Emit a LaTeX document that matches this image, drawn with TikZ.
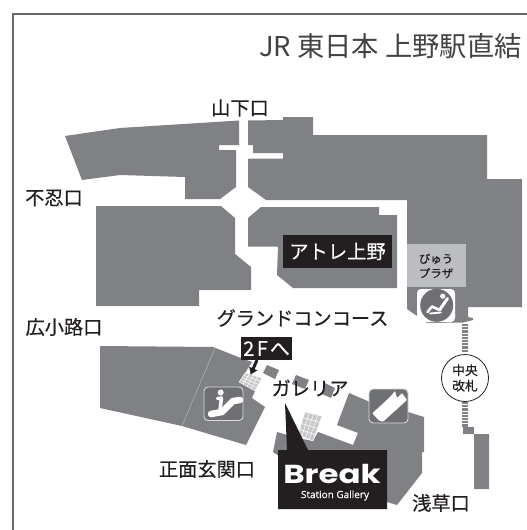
\documentclass[tikz,border=0pt]{standalone}
\usepackage{fontspec}
\usepackage{graphicx}
\usetikzlibrary{calc,arrows.meta}
\setmainfont{Noto Sans CJK JP}
\newfontfamily\boldish{Noto Sans CJK JP}[FakeBold=0.4]
\newfontfamily\logofont{Poppins}
\newfontfamily\latinfont{Open Sans}[FakeBold=0.3]
\definecolor{mapgray}{HTML}{808184}
\definecolor{icongray}{HTML}{6F7073}
\definecolor{lightgray2}{HTML}{BCBDC0}
\definecolor{inkblack}{HTML}{231F20}
\definecolor{framegray}{HTML}{6A6A6C}
\definecolor{tilegray}{HTML}{C8C9CB}
\begin{document}
\begin{tikzpicture}[x=1pt,y=-1pt,
  area/.style={fill=mapgray,draw=none},
  place/.style={font=\boldish\fontsize{19.2}{21}\selectfont,text=inkblack,inner sep=0pt},
  blackbox/.style={fill=inkblack,draw=none},
  iconbox/.style={fill=icongray,draw=white!85!black,line width=0.9pt,rounded corners=4pt},
  tile/.style={fill=tilegray,draw=white,line width=0.4pt},
  stripe/.style={draw=mapgray,line width=2.2pt},
  whiteline/.style={draw=white,line cap=round,line join=round}]
\useasboundingbox (0,0) rectangle (527,530);
\fill[white] (0,0) rectangle (527,530);
% frame
\draw[framegray,line width=1.3pt] (527,14) -- (13,14) -- (13,530);
% title
\node[anchor=east,inner sep=0pt,text=inkblack!85!white,font=\fontsize{27.3}{29}\selectfont] (title) at (522,46) {JR 東日本 上野駅直結};
% upper building
\fill[area] (65,136) -- (120,128) -- (239,120.5) -- (239,145) -- (219,145) -- (219,150) -- (236,150) -- (236,187) -- (220,199) -- (185,199) -- (185,177) -- (120,175) -- (82,180) -- cycle;
\fill[area] (248,120.5) -- (283,120) -- (283,117) -- (313,117) -- (313,135) -- (487,135) -- (487,179) -- (522,179) -- (522,307) -- (468,307) -- (468,317) -- (473,318) -- (473,320) -- (463,322.5) -- (427,323) -- (407,309) -- (407,200) -- (266,200) -- (248,187) -- (248,158.5) -- (283,158.5) -- (283,153) -- (253,153) -- (253,145) -- (248,145) -- cycle;
\fill[area] (248,218) -- (261,207) -- (379,207) -- (379,215) -- (397,215) -- (397,288) -- (293,288) -- (277,275) -- (278,246.5) -- (248,246.5) -- cycle;
\fill[area] (96,206) -- (221,206) -- (235,218) -- (235,254) -- (251,267) -- (251,290) -- (199,290) -- (199,306) -- (96,306) -- cycle;
% lower left building
\fill[area] (100,346) -- (213,347) -- (241,358) -- (252,362) -- (245,373) -- (239,382) -- (255,391) -- (252,398) -- (265,407) -- (246,445) -- (182,426) -- (100,408) -- cycle;
\draw[lightgray2,line width=0.4pt] (215,348) -- (182,426);
% galleria squares
\fill[area] (267,365) -- (279,370) -- (275,379) -- (263,373) -- cycle;
\fill[area] (296,375) -- (309,380) -- (305,389) -- (292,384) -- cycle;
\fill[area] (325,383) -- (335,388) -- (331,398) -- (322,394) -- cycle;
% lower right building
\fill[area] (349,393) -- (370,402) -- (408,412) -- (424,417) -- (424,452) -- (422,452) -- (422,473) -- (397,505) -- (387,502) -- (300,470) -- (273,452) -- (277,432) -- (298,438) -- (313,441) -- (318,432) -- (353,445) -- (358,433) -- (337,425) -- cycle;
% tiled areas
\fill[tile] (245,373) -- (262,378) -- (255,391) -- (239,382) -- cycle;
\fill[tile] (305,412) -- (322,416) -- (313,441) -- (298,435) -- cycle;
\foreach \t in {0.25,0.5,0.75}{
  \draw[white,line width=0.5pt] ($(245,373)!\t!(239,382)$) -- ($(262,378)!\t!(255,391)$);
  \draw[white,line width=0.5pt] ($(305,412)!\t!(298,435)$) -- ($(322,416)!\t!(313,441)$);
  \draw[white,line width=0.5pt] ($(305,412)!\t!(322,416)$) -- ($(298,435)!\t!(313,441)$);
  \draw[white,line width=0.5pt] ($(245,373)!\t!(262,378)$) -- ($(239,382)!\t!(255,391)$);
}
% byu plaza
\fill[lightgray2] (407,244) rectangle (466,287);
\node[inner sep=0pt,align=center,text=inkblack,font=\boldish\fontsize{11.5}{14.5}\selectfont] (byu) at (436,266) {びゅう\\プラザ};
\fill[white,rounded corners=4pt] (417,289) rectangle (455,322);
\fill[icongray] (436.7,305.3) circle (16.5);
\fill[white] (442.7,296.2) circle (2.6);
\draw[whiteline,line width=3pt] (447.5,298.5) -- (439.5,310);
\draw[whiteline,line width=2.6pt] (427.5,312) -- (432,306.5) -- (439.5,310);
\draw[whiteline,line width=1.8pt] (430,313.5) -- (441,312.5);
% stairs
\foreach \y in {325,328.2,...,352}{\draw[stripe] (461.5,\y) -- (468,\y);}
\foreach \y in {403,406.2,...,426}{\draw[stripe] (461.5,\y) -- (468,\y);}
\fill[area] (463,427) -- (474,427) -- (474,434) -- (489,434) -- (489,489) -- (474,489) -- (474,434) -- (463,434) -- cycle;
% central gate
\node[circle,draw=inkblack,fill=white,line width=0.8pt,minimum size=47pt,inner sep=0pt,align=center,text=inkblack,font=\boldish\fontsize{12.8}{15.5}\selectfont] (gate) at (465,378) {中央\\改札};
% icons
\draw[iconbox] (204,387) rectangle (243,420.5);
\fill[white] (220.7,392.5) circle (3);
\draw[whiteline,line width=3.5pt] (217.5,398.5) -- (221.5,398) -- (220,410);
\draw[whiteline,line width=6.5pt] (211,414) -- (222,412) -- (233,401) -- (240,400);
\draw[iconbox] (369,389) rectangle (408,423);
\fill[white,rounded corners=0.8pt] (372.3,413.3) -- (390,397) -- (395,391) -- (397,398) -- (402,393) -- (407,400) -- (383,421.7) -- (379,420.5) -- cycle;
% black labels
\fill[blackbox] (283,235) rectangle (392,268);
\node[inner sep=0pt,text=white,font=\boldish\fontsize{19.3}{21}\selectfont] (atre) at (337.5,251.5) {アトレ上野};
\fill[blackbox] (241,337) rectangle (292,360);
\node[inner sep=0pt,text=white,font=\boldish\fontsize{20}{22}\selectfont] (twof) at (266.5,348.5) {2\kern2.5pt F\kern2pt へ};
\coordinate (arrowstart) at (257,360);
\coordinate (arrowend) at (250.5,375);
\draw[inkblack,line width=3pt,-{Latex[length=7pt,width=10pt]}] (arrowstart) -- (arrowend);
% break callout
\fill[blackbox] (285,403) -- (308,450) -- (387,450) -- (387,509) -- (278,509) -- (278,450) -- (287,450) -- cycle;
\node[inner sep=0pt,text=white,font=\logofont\bfseries\fontsize{26}{26}\selectfont] (break) at (332,483) {\scalebox{1.25}[1]{\smash{Break}}};
\node[inner sep=0pt,text=white,font=\latinfont\fontsize{10}{10}\selectfont] (gallery) at (335,495.5) {Station Gallery};
% place names
\node[place] (yamashita) at (240,108) {山下口};
\node[place] (shinobazu) at (54,198) {不忍口};
\node[place] (hirokoji) at (64,327) {広小路口};
\node[place] (shomen) at (207,469) {正面玄関口};
\node[place] (concourse) at (302.5,318) {グランドコンコース};
\node[place] (galleria) at (310,388) {ガレリア};
\node[place] (asakusa) at (441,503) {浅草口};
\end{tikzpicture}
\end{document}
